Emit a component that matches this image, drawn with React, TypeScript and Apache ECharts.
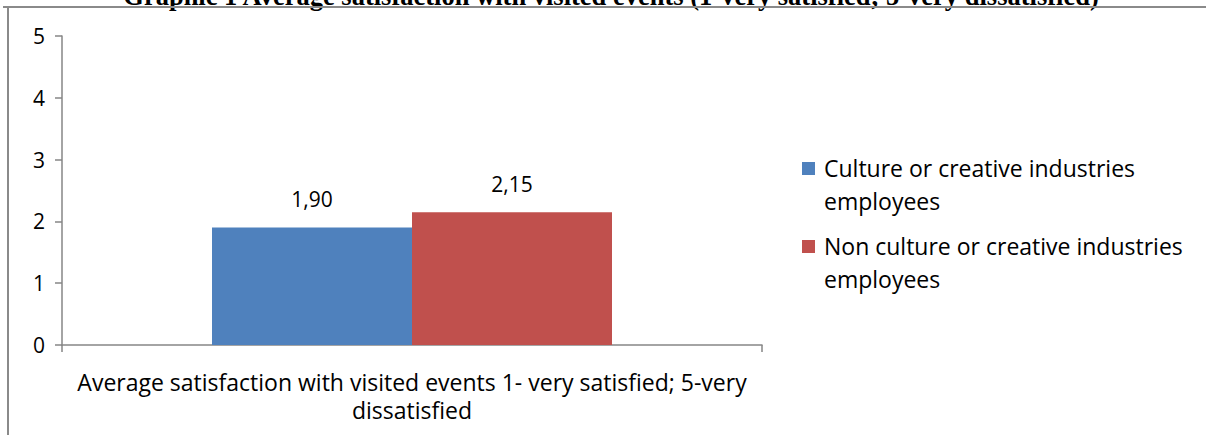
import React, { useEffect, useRef } from "react";
import * as echarts from "echarts";

// Chart content
const titleText =
  "Graphic 1 Average satisfaction with visited events (1-very satisfied; 5-very dissatisfied)";
const categories = [
  "Average satisfaction with visited events 1- very satisfied; 5-very\ndissatisfied",
];
const seriesNames = [
  "Culture or creative industries\nemployees",
  "Non culture or creative industries\nemployees",
];
const cultureValues = [1.9];
const nonCultureValues = [2.15];
const yTicks = [0, 1, 2, 3, 4, 5];
const seriesColors = ["#4F81BD", "#C0504D"];

const FONT = "'Open Sans', Lato, sans-serif";

const fmtComma = (v: number) => v.toFixed(2).replace(".", ",");

export default function App() {
  const ref = useRef<HTMLDivElement>(null);

  useEffect(() => {
    if (!ref.current) return;
    const chart = echarts.init(ref.current, undefined, { renderer: "svg" });

    const allValues = [cultureValues, nonCultureValues];

    // Legend drawn by hand so the swatch sits beside the first text line
    const legendItems = seriesNames.map((name, i) => ({
      type: "group",
      left: 802,
      top: 151 + i * 78,
      children: [
        {
          type: "rect",
          shape: { x: 0, y: 11, width: 13, height: 13 },
          style: { fill: seriesColors[i] },
        },
        {
          type: "text",
          x: 22,
          y: 0,
          style: {
            text: name,
            font: `23px ${FONT}`,
            fill: "#000",
            lineHeight: 33,
            verticalAlign: "top",
          },
        },
      ],
    }));

    chart.setOption({
      animation: false,
      backgroundColor: "#fff",
      textStyle: { fontFamily: FONT },
      grid: { left: 62, top: 36, right: 444, bottom: 90 },
      xAxis: {
        type: "category",
        data: categories,
        boundaryGap: true,
        axisLine: { show: true, lineStyle: { color: "#868686", width: 1.5 } },
        axisTick: { show: true, length: 7, alignWithLabel: false, lineStyle: { color: "#868686", width: 1.5 } },
        axisLabel: {
          color: "#000",
          fontSize: 23,
          fontFamily: FONT,
          lineHeight: 28,
          margin: 23,
          interval: 0,
        },
      },
      yAxis: {
        type: "value",
        min: yTicks[0],
        max: yTicks[yTicks.length - 1],
        interval: yTicks[1] - yTicks[0],
        splitLine: { show: false },
        axisLine: { show: true, lineStyle: { color: "#868686", width: 1.5 } },
        axisTick: { show: true, length: 7, lineStyle: { color: "#868686", width: 1.5 } },
        axisLabel: { color: "#000", fontSize: 21, fontFamily: FONT, margin: 17 },
      },
      series: seriesNames.map((name, i) => ({
        type: "bar",
        name,
        data: allValues[i],
        barWidth: 200,
        barGap: "0%",
        itemStyle: { color: seriesColors[i] },
        label: {
          show: true,
          position: "top",
          distance: 18,
          color: "#000",
          fontSize: 21,
          fontFamily: FONT,
          formatter: (p: any) => fmtComma(p.value),
        },
      })),
      graphic: [
        {
          type: "text",
          x: 611,
          y: 9,
          style: {
            text: titleText,
            font: "bold 26.5px 'Liberation Serif', 'Times New Roman', serif",
            fill: "#000",
            align: "center",
            verticalAlign: "bottom",
          },
        },
        {
          type: "line",
          shape: { x1: 3, y1: 7, x2: 1206, y2: 7 },
          style: { stroke: "#8a8a8a", lineWidth: 2 },
        },
        {
          type: "line",
          shape: { x1: 8, y1: 7, x2: 8, y2: 435 },
          style: { stroke: "#8a8a8a", lineWidth: 2 },
        },
        ...legendItems,
      ],
    });

    return () => chart.dispose();
  }, []);

  return (
    <div
      ref={ref}
      style={{ position: "absolute", left: 0, top: 0, width: 1206, height: 435, background: "#fff" }}
    />
  );
}
